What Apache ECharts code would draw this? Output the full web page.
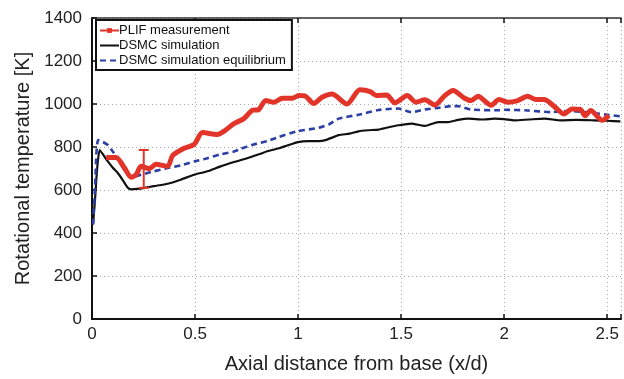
<!DOCTYPE html>
<html>
<head>
<meta charset="utf-8">
<script src="https://cdn.jsdelivr.net/npm/echarts@6/dist/echarts.min.js"></script>
<style>html,body{margin:0;padding:0;background:#fff}#c{width:624px;height:379px}</style>
</head>
<body>
<div id="c"></div>
<script>
// ---- data ----
var plifX = [0.069,0.117,0.158,0.19,0.214,0.238,0.278,0.31,0.367,0.391,0.447,0.496,0.536,0.608,0.64,0.689,0.737,0.777,0.809,0.843,0.883,0.923,0.972,1.004,1.036,1.076,1.116,1.165,1.237,1.30,1.35,1.38,1.43,1.47,1.53,1.572,1.615,1.663,1.712,1.752,1.808,1.84,1.873,1.937,1.975,2.02,2.066,2.114,2.154,2.194,2.242,2.29,2.33,2.37,2.393,2.42,2.476,2.508];
var plifT = [751,751,702,659,671,710,699,720,710,760,794,812,867,858,873,909,932,970,974,1016,1008,1027,1027,1039,1036,1002,1031,1046,1000,1066,1058,1039,1042,1005,1039,1008,1020,995,1039,1063,1027,1016,1036,994,1021,1008,1016,1036,1021,1021,990,954,977,975,945,970,924,947];

var simX = [0.005,0.015,0.025,0.037,0.05,0.077,0.10,0.125,0.15,0.174,0.19,0.22,0.254,0.30,0.367,0.43,0.496,0.56,0.624,0.689,0.753,0.81,0.85,0.907,0.95,1.0,1.05,1.10,1.133,1.197,1.25,1.293,1.34,1.39,1.44,1.486,1.55,1.615,1.68,1.728,1.776,1.824,1.9,1.953,2.0,2.05,2.12,2.195,2.275,2.35,2.436,2.5,2.564];
var simT = [440,560,700,786,770,733,705,679,645,610,603,605,610,618,629,648,671,687,710,730,748,766,780,794,808,823,827,827,832,855,862,873,878,881,892,901,909,898,916,916,926,932,928,932,930,924,928,932,924,926,924,922,919];

var eqX = [0.005,0.015,0.022,0.03,0.05,0.077,0.10,0.125,0.145,0.166,0.19,0.238,0.30,0.367,0.43,0.496,0.56,0.624,0.689,0.72,0.785,0.85,0.907,1.0,1.10,1.15,1.197,1.293,1.39,1.486,1.55,1.615,1.68,1.744,1.776,1.84,1.969,2.0,2.114,2.226,2.32,2.40,2.50,2.564];
var eqT = [440,620,780,832,825,809,780,748,712,679,659,671,687,702,714,733,748,766,779,791,812,827,847,874,889,905,932,950,972,979,962,975,982,990,990,974,971,973,970,962,968,961,950,943];

var errX = [0.251];
var errLow = [610];
var errHigh = [786];

var xTicks = [0, 0.5, 1, 1.5, 2, 2.5];
var yTicks = [0, 200, 400, 600, 800, 1000, 1200, 1400];

var names = ['PLIF measurement', 'DSMC simulation', 'DSMC simulation equilibrium'];

function zip(a, b) { return a.map(function (v, i) { return [v, b[i]]; }); }

var FONT = 'Liberation Sans, Arial, Helvetica, sans-serif';
var chart = echarts.init(document.getElementById('c'), null, { renderer: 'canvas' });

var xCommon = {
  type: 'value', min: 0, max: 2.567, interval: 0.5
};

chart.setOption({
  animation: false,
  backgroundColor: '#fff',
  grid: { left: 92, top: 18, right: 0, bottom: 56, containLabel: false },
  legend: {
    data: [
      { name: names[0] },
      { name: names[1], itemStyle: { opacity: 0 } },
      { name: names[2], itemStyle: { opacity: 0 } }
    ],
    orient: 'vertical',
    left: 96, top: 20,
    backgroundColor: '#fff',
    borderColor: '#111', borderWidth: 2, borderRadius: 0,
    padding: [4, 6, 3, 3],
    itemWidth: 19, itemHeight: 6, itemGap: 2,
    textStyle: { fontFamily: FONT, fontSize: 13, color: '#111', padding: [0, 0, 0, -5] }
  },
  xAxis: [
    Object.assign({}, xCommon, {
      position: 'bottom',
      name: 'Axial distance from base (x/d)',
      nameLocation: 'middle', nameGap: 35,
      nameTextStyle: { fontFamily: FONT, fontSize: 20, color: '#222' },
      axisLine: { show: true, onZero: false, lineStyle: { color: '#111', width: 2 } },
      axisTick: { show: true, inside: true, length: 5, lineStyle: { color: '#111', width: 1.5 } },
      axisLabel: {
        fontFamily: FONT, fontSize: 17, color: '#222', margin: 7,
        formatter: function (v) { return xTicks.indexOf(v) >= 0 ? String(v) : ''; }
      },
      splitLine: { show: true, lineStyle: { color: '#aaa', width: 1, type: [1, 3] } }
    }),
    Object.assign({}, xCommon, {
      position: 'top',
      axisLine: { show: true, onZero: false, lineStyle: { color: '#333', width: 1.5 } },
      axisTick: { show: true, inside: true, length: 5, lineStyle: { color: '#111', width: 1.5 } },
      axisLabel: { show: false },
      splitLine: { show: false }
    })
  ],
  yAxis: {
    type: 'value', min: 0, max: 1400, interval: 200,
    name: 'Rotational temperature [K]',
    nameLocation: 'middle', nameGap: 58,
    nameTextStyle: { fontFamily: FONT, fontSize: 20, color: '#222' },
    axisLine: { show: true, lineStyle: { color: '#111', width: 2 } },
    axisTick: { show: true, inside: true, length: 5, lineStyle: { color: '#111', width: 1.5 } },
    axisLabel: {
      fontFamily: FONT, fontSize: 17, color: '#222', margin: 10,
      formatter: function (v) { return yTicks.indexOf(v) >= 0 ? String(v) : ''; }
    },
    splitLine: { show: true, lineStyle: { color: '#aaa', width: 1, type: [1, 3] } }
  },
  series: [
    {
      name: names[0], type: 'line', xAxisIndex: 0,
      data: zip(plifX, plifT),
      symbol: 'rect', symbolSize: 4, showSymbol: false,
      smooth: 0.25,
      itemStyle: { color: '#e3342a' },
      lineStyle: { color: '#e3342a', width: 5 },
      z: 4
    },
    {
      name: names[1], type: 'line', xAxisIndex: 0,
      data: zip(simX, simT),
      symbol: 'none', smooth: 0.2,
      itemStyle: { color: '#111' },
      lineStyle: { color: '#111', width: 2.2 },
      z: 3
    },
    {
      name: names[2], type: 'line', xAxisIndex: 0,
      data: zip(eqX, eqT),
      symbol: 'none', smooth: 0.2,
      itemStyle: { color: '#2c3fa6' },
      lineStyle: { color: '#2c3fa6', width: 2.6, type: [6, 4] },
      z: 3
    },
    {
      name: 'errorbar', type: 'custom', xAxisIndex: 0,
      data: errX.map(function (x, i) { return [x, errLow[i], errHigh[i]]; }),
      renderItem: function (params, api) {
        var lo = api.coord([api.value(0), api.value(1)]);
        var hi = api.coord([api.value(0), api.value(2)]);
        var w = 5;
        var st = { stroke: '#e3342a', lineWidth: 2 };
        return {
          type: 'group',
          children: [
            { type: 'line', shape: { x1: lo[0], y1: lo[1], x2: hi[0], y2: hi[1] }, style: st },
            { type: 'line', shape: { x1: lo[0] - w, y1: lo[1], x2: lo[0] + w, y2: lo[1] }, style: st },
            { type: 'line', shape: { x1: hi[0] - w, y1: hi[1], x2: hi[0] + w, y2: hi[1] }, style: st }
          ]
        };
      },
      z: 5
    }
  ]
});
</script>
</body>
</html>
